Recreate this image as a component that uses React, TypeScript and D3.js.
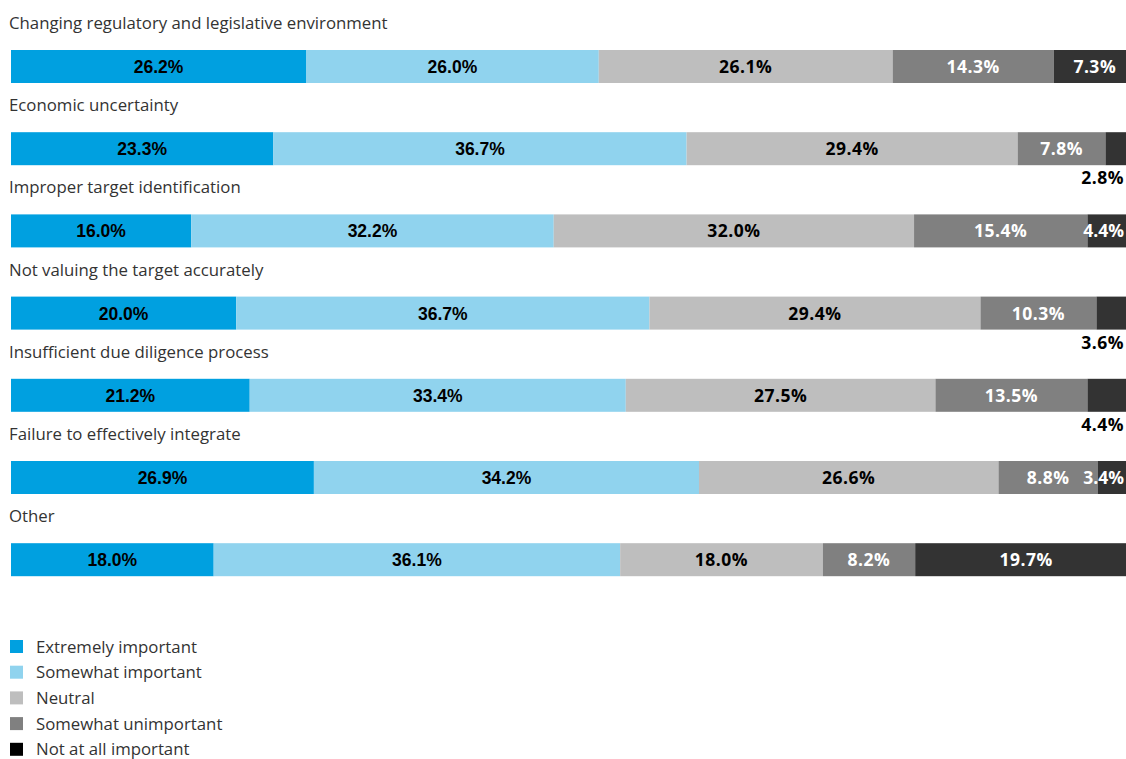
import React from "react";
import * as d3 from "d3";

const categories = [
  "Changing regulatory and legislative environment",
  "Economic uncertainty",
  "Improper target identification",
  "Not valuing the target accurately",
  "Insufficient due diligence process",
  "Failure to effectively integrate",
  "Other",
];

const seriesNames = [
  "Extremely important",
  "Somewhat important",
  "Neutral",
  "Somewhat unimportant",
  "Not at all important",
];

const extremelyImportant = [26.2, 23.3, 16.0, 20.0, 21.2, 26.9, 18.0];
const somewhatImportant = [26.0, 36.7, 32.2, 36.7, 33.4, 34.2, 36.1];
const neutral = [26.1, 29.4, 32.0, 29.4, 27.5, 26.6, 18.0];
const somewhatUnimportant = [14.3, 7.8, 15.4, 10.3, 13.5, 8.8, 8.2];
const notAtAllImportant = [7.3, 2.8, 4.4, 3.6, 4.4, 3.4, 19.7];

// rows whose last-segment label is drawn beneath the bar
const labelBelowRows = [1, 3, 4];

const seriesColors = ["#00A0E0", "#90D3EE", "#BEBEBE", "#808080", "#333333"];
const legendColors = ["#00A0E0", "#90D3EE", "#BEBEBE", "#808080", "#000000"];
const labelColors = ["#000", "#000", "#000", "#fff", "#fff"];
const labelFonts = [
  "'Liberation Sans', Arial, sans-serif",
  "'Liberation Sans', Arial, sans-serif",
  "'Open Sans', sans-serif",
  "'Open Sans', sans-serif",
  "'Open Sans', sans-serif",
];
const labelSpacing = [0, 0, 0.5, 0.5, 0.5];

const W = 1126;
const H = 759;

export default function App() {
  const series = [extremelyImportant, somewhatImportant, neutral, somewhatUnimportant, notAtAllImportant];
  const x = d3.scaleLinear().domain([0, 100]).range([11, 1137]);
  const rowStep = 82.2;
  const barTop = (i: number) => 50 + i * rowStep;
  const barH = 33;
  const rightEdge = 1124;

  const rows = categories.map((c, i) => {
    let acc = 0;
    return series.map((s, k) => {
      const x0 = acc;
      acc += s[i];
      return { k, v: s[i], x0, x1: acc };
    });
  });

  const fmt = (v: number) => v.toFixed(1) + "%";
  const approxW = (t: string) => t.length * 10;

  return (
    <svg width={W} height={H} style={{ position: "absolute", left: 0, top: 0 }}>
      <rect width={W} height={H} fill="#fff" />
      {categories.map((c, i) => (
        <g key={c}>
          <text
            x={9}
            y={barTop(i) - 21}
            fontFamily="'Open Sans', sans-serif"
            fontSize={16.8}
            fill="#333"
          >
            {c}
          </text>
          {rows[i].map((seg) => (
            <rect
              key={seg.k}
              x={x(seg.x0)}
              y={barTop(i)}
              width={x(seg.x1) - x(seg.x0)}
              height={barH}
              fill={seriesColors[seg.k]}
            />
          ))}
          {rows[i].map((seg) => {
            const t = fmt(seg.v);
            const below = seg.k === 4 && labelBelowRows.includes(i);
            if (below) {
              return (
                <text
                  key={"l" + seg.k}
                  x={rightEdge}
                  y={barTop(i) + barH + 19}
                  textAnchor="end"
                  fontFamily={labelFonts[seg.k]}
                  fontWeight="bold"
                  fontSize={17.5}
                  letterSpacing={labelSpacing[seg.k]}
                  fill="#000"
                >
                  {t}
                </text>
              );
            }
            const center = (x(seg.x0) + x(seg.x1)) / 2;
            const overflow = center + approxW(t) / 2 > rightEdge;
            return (
              <text
                key={"l" + seg.k}
                x={overflow ? rightEdge : center}
                y={barTop(i) + 23}
                textAnchor={overflow ? "end" : "middle"}
                fontFamily={labelFonts[seg.k]}
                fontWeight="bold"
                fontSize={17.5}
                letterSpacing={overflow ? 0 : labelSpacing[seg.k]}
                fill={labelColors[seg.k]}
              >
                {t}
              </text>
            );
          })}
        </g>
      ))}
      {seriesNames.map((n, k) => (
        <g key={n} transform={`translate(0, ${640 + k * 25.7})`}>
          <rect x={10} y={0} width={13} height={13} fill={legendColors[k]} />
          <text x={36} y={12.5} fontFamily="'Open Sans', sans-serif" fontSize={16.8} fill="#333">
            {n}
          </text>
        </g>
      ))}
    </svg>
  );
}
